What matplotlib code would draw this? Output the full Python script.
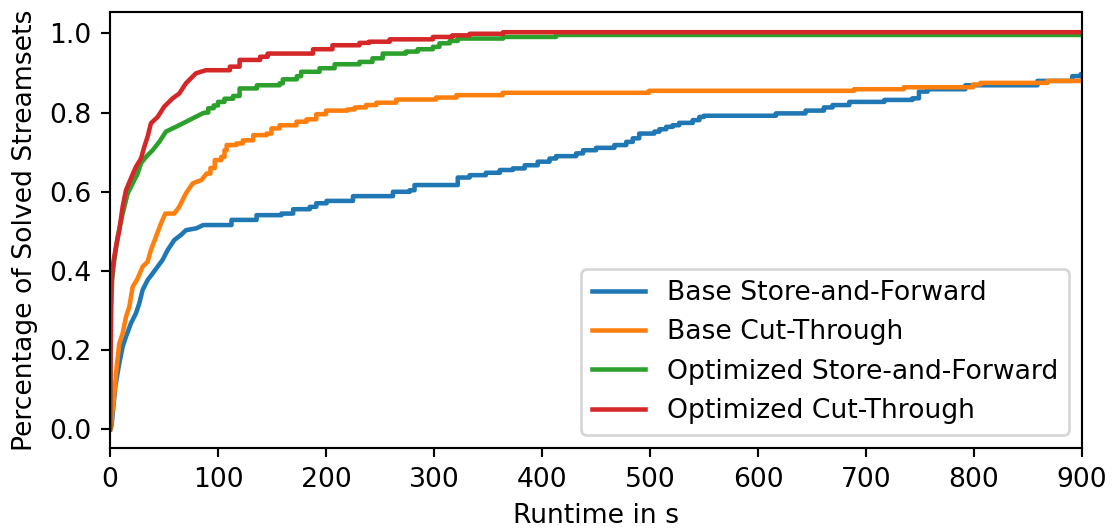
"""Runtime distribution of solved streamsets for the four scheduling variants."""
import matplotlib
matplotlib.use('Agg')
import matplotlib.pyplot as plt

# Runtime (s) at which the solved fraction reaches the given value
base_sf_t = [0, 1.5, 2.5, 4.9, 8, 11.7, 14.8, 19.4, 24, 27.1, 30.2, 34.8, 39.5, 44.1, 48.7,
             53.4, 59.5, 65.7, 70.3, 80.2, 86.3, 112.5, 135.7, 158.8, 169.6, 185, 191, 200.5,
             225, 262, 277.5, 282, 322, 333, 348, 361, 373, 384, 396, 407, 413, 431.6, 438,
             450, 467, 478, 484, 490, 504, 508.7, 515, 521, 527, 539.6, 545.7, 550, 616.6,
             644, 661, 669, 684.5, 717, 743, 749, 757, 792, 858.7, 891, 898.8]
base_sf_y = [0, 0.01, 0.04, 0.108, 0.158, 0.209, 0.234, 0.268, 0.293, 0.318, 0.352, 0.377,
             0.394, 0.411, 0.428, 0.453, 0.478, 0.491, 0.503, 0.508, 0.516, 0.529, 0.541,
             0.545, 0.556, 0.562, 0.571, 0.577, 0.589, 0.600, 0.604, 0.617, 0.636, 0.642,
             0.648, 0.655, 0.659, 0.667, 0.676, 0.684, 0.690, 0.697, 0.705, 0.711, 0.718,
             0.726, 0.735, 0.747, 0.752, 0.758, 0.764, 0.768, 0.774, 0.781, 0.789, 0.792,
             0.798, 0.805, 0.813, 0.819, 0.827, 0.832, 0.836, 0.853, 0.859, 0.869, 0.880,
             0.892, 0.897]

base_ct_t = [0, 0.9, 2, 4, 6.2, 8.6, 11.7, 14.8, 17.9, 21, 25.6, 30.2, 34.8, 37.9, 42.5, 47.2,
             51.2, 59.5, 64.1, 70.3, 76.5, 84.8, 89.4, 93, 97, 103, 106, 108, 117, 123, 132.6,
             145, 149.5, 157, 172.7, 182, 191, 200, 220, 226.6, 237, 246.7, 265, 302, 320.7,
             363.6, 499, 689, 735, 799, 806, 868]
base_ct_y = [0, 0.003, 0.04, 0.091, 0.158, 0.217, 0.242, 0.284, 0.31, 0.36, 0.381, 0.411,
             0.423, 0.453, 0.486, 0.520, 0.545, 0.545, 0.562, 0.596, 0.621, 0.630, 0.646,
             0.66, 0.680, 0.688, 0.705, 0.718, 0.722, 0.73, 0.743, 0.747, 0.760, 0.768, 0.777,
             0.783, 0.796, 0.805, 0.808, 0.813, 0.819, 0.825, 0.833, 0.838, 0.844, 0.850,
             0.855, 0.859, 0.864, 0.871, 0.875, 0.880]

opt_sf_t = [0, 1, 2, 4, 7.1, 11.7, 16.4, 21, 25.6, 28.7, 33.3, 39.5, 45.6, 51.8, 61, 73.4,
            85.7, 88, 91, 96, 100, 106, 114, 120, 136, 157, 160, 173, 177, 194, 208, 231, 243,
            252.5, 274, 285, 299, 305, 314.5, 322, 364, 413]
opt_sf_y = [0, 0.3, 0.38, 0.428, 0.486, 0.545, 0.596, 0.621, 0.646, 0.672, 0.688, 0.705,
            0.726, 0.752, 0.764, 0.781, 0.798, 0.80, 0.811, 0.818, 0.827, 0.835, 0.842, 0.861,
            0.869, 0.874, 0.884, 0.892, 0.903, 0.912, 0.922, 0.928, 0.937, 0.949, 0.954,
            0.96, 0.966, 0.975, 0.981, 0.987, 0.991, 0.996]

opt_ct_t = [0, 1, 2.5, 5.5, 8.6, 11.7, 14.8, 19.4, 24, 28.7, 31.8, 34.8, 37.9, 44.1, 50.2, 58,
            64.1, 70.3, 79.5, 84, 88.8, 111, 120, 139, 146, 188, 206, 231, 240, 259, 299,
            317, 333, 364]
opt_ct_y = [0, 0.35, 0.411, 0.461, 0.503, 0.562, 0.604, 0.634, 0.663, 0.684, 0.714, 0.739,
            0.773, 0.789, 0.815, 0.836, 0.848, 0.874, 0.899, 0.903, 0.907, 0.916, 0.933,
            0.941, 0.949, 0.96, 0.97, 0.976, 0.979, 0.985, 0.991, 0.995, 0.999, 1.003]

series = [
    ('Base Store-and-Forward', base_sf_t, base_sf_y),
    ('Base Cut-Through', base_ct_t, base_ct_y),
    ('Optimized Store-and-Forward', opt_sf_t, opt_sf_y),
    ('Optimized Cut-Through', opt_ct_t, opt_ct_y),
]
max_runtime = 900
smooth_until = 90  # steps are too dense to see before this runtime


def curve(t, y):
    """Joins the points directly early on, as steps later, and holds the last value."""
    xs, ys = [t[0]], [y[0]]
    for i in range(1, len(t)):
        if t[i] > smooth_until:
            xs.append(t[i])
            ys.append(y[i - 1])
        xs.append(t[i])
        ys.append(y[i])
    xs.append(max_runtime)
    ys.append(y[-1])
    return xs, ys


fig, ax = plt.subplots(figsize=(1113 / 192, 532 / 192), dpi=192)
fig.subplots_adjust(left=110 / 1113, right=1082 / 1113, top=1 - 12 / 532, bottom=1 - 448 / 532)

for label, t, y in series:
    xs, ys = curve(t, y)
    ax.plot(xs, ys, linewidth=1.7, label=label)

ax.set_xlim(0, max_runtime)
ax.set_ylim(-0.047, 1.054)
ax.set_xlabel('Runtime in s')
ax.set_ylabel('Percentage of Solved Streamsets')
ax.legend(loc='lower right')

fig.savefig('out.png', dpi=192)
